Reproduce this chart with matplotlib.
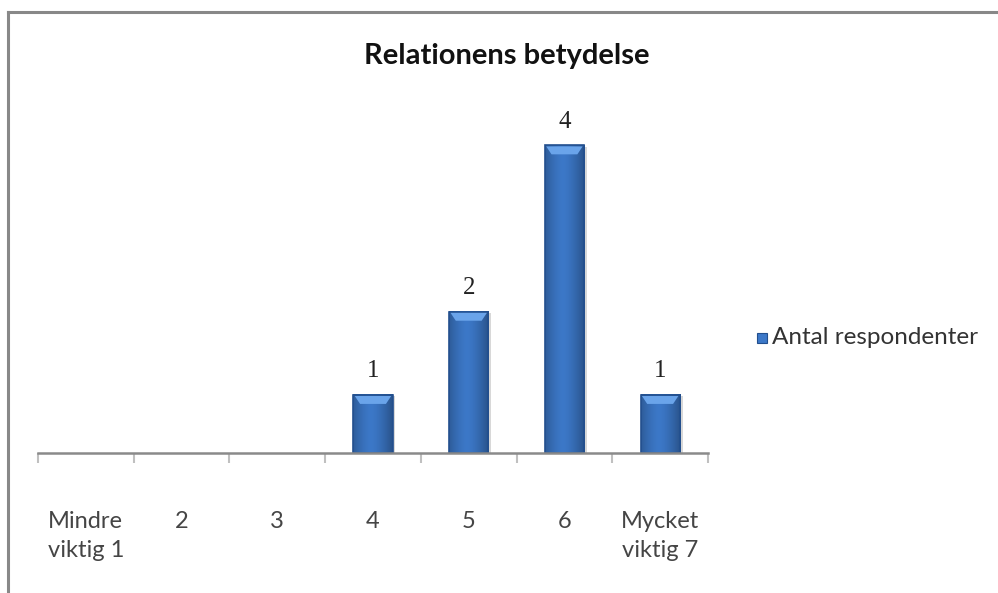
import matplotlib
matplotlib.use("Agg")
import matplotlib.pyplot as plt
from matplotlib.lines import Line2D
from matplotlib.patches import Rectangle, Polygon
import numpy as np

# Survey data: how important the relation is (scale 1-7)
categories = ["Mindre\nviktig 1", "2", "3", "4", "5", "6", "Mycket\nviktig 7"]
respondents = [0, 0, 0, 1, 2, 4, 1]
series_name = "Antal respondenter"
title = "Relationens betydelse"

plt.rcParams["font.family"] = ["Lato", "DejaVu Sans"]

fig = plt.figure(figsize=(9.98, 5.93), dpi=100)
W, H = 998, 593
ax = fig.add_axes([38 / W, 1 - 453 / H, (708 - 38) / W, (453 - 62) / H])

x = np.arange(len(categories))
bar_w = 0.41
base_color = "#3c78c8"
edge_dark = "#224f8e"

ax.set_xlim(-0.5, len(categories) - 0.5)
y_min, y_max = 0.3, 5.0
ax.set_ylim(y_min, y_max)
ax.set_autoscale_on(False)

# horizontal gradient used to shade each bar like a bevelled column
grad = np.linspace(0, 1, 64)
shade = 1 - 0.35 * np.abs(grad - 0.45) ** 1.5 * 2.2
cmap_img = np.zeros((1, 64, 3))
rgb = np.array(matplotlib.colors.to_rgb(base_color))
cmap_img[0] = np.clip(rgb[None, :] * shade[:, None], 0, 1)

for xi, v in zip(x, respondents):
    if v <= 0:
        continue
    left = xi - bar_w / 2
    # soft shadow
    ax.add_patch(Rectangle((left + 0.03, y_min), bar_w, v - y_min - 0.02,
                           facecolor="#d8d8d8", edgecolor="none", zorder=1))
    ax.imshow(cmap_img, extent=(left, left + bar_w, y_min, v),
              aspect="auto", interpolation="bilinear", zorder=2)
    ax.add_patch(Rectangle((left, y_min), bar_w, v - y_min, facecolor="none",
                           edgecolor=edge_dark, linewidth=1.2, zorder=3))
    # lighter bevel at the top of the column
    ax.add_patch(Polygon([(left + 0.015, v - 0.015), (left + bar_w - 0.015, v - 0.015),
                          (left + bar_w - 0.07, v - 0.11), (left + 0.07, v - 0.11)],
                         closed=True, facecolor="#6aa4ea", edgecolor="none",
                         zorder=3))
    ax.annotate(f"{v}", xy=(xi, v), xytext=(0, 9), textcoords="offset points",
                ha="center", va="bottom", fontsize=18,
                family=["Liberation Serif"], color="#222222")

ax.set_aspect("auto")
for s in ["top", "right", "left"]:
    ax.spines[s].set_visible(False)
ax.spines["bottom"].set_color("#8a8a8a")
ax.spines["bottom"].set_linewidth(1.8)
ax.spines["bottom"].set_zorder(4)
ax.set_yticks([])

# tick marks at category boundaries, labels at centres
ax.set_xticks(np.arange(-0.5, len(categories), 1.0))
ax.set_xticklabels([])
ax.tick_params(axis="x", which="major", length=7, width=1.5, color="#c0c0c0")
ax.set_xticks(x, minor=True)
ax.set_xticklabels(categories, minor=True, fontsize=17, color="#454545",
                   linespacing=1.45, va="top")
ax.tick_params(axis="x", which="minor", length=0, pad=42)

fig.text(507 / W, 1 - 56 / H, title, ha="center", va="center",
         fontsize=21, fontweight="bold", color="#111111")

# legend
fig.add_artist(Rectangle((757 / W, 1 - 343 / H), 10 / W, 10 / H,
                         transform=fig.transFigure, facecolor=base_color,
                         edgecolor=edge_dark, linewidth=0.8))
fig.text(772 / W, 1 - 337 / H, series_name, ha="left", va="center",
         fontsize=17.5, color="#333333")

# chart-area border
fig.add_artist(Line2D([8 / W, 8 / W], [0, 1 - 12 / H], color="#888888",
                      linewidth=2.2, transform=fig.transFigure))
fig.add_artist(Line2D([8 / W, 997 / W], [1 - 12 / H, 1 - 12 / H],
                      color="#888888", linewidth=2.2, transform=fig.transFigure))

fig.savefig("out.png", dpi=100, facecolor="white")
